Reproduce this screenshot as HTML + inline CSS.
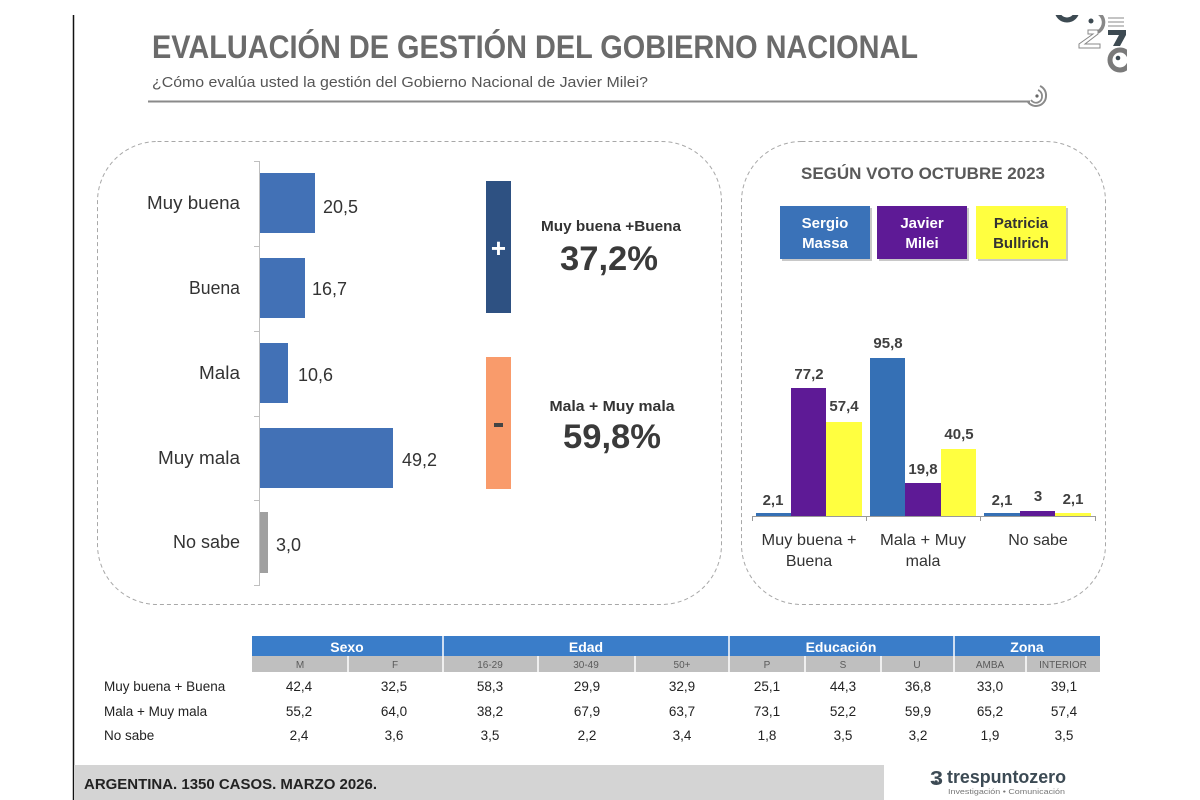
<!DOCTYPE html>
<html><head><meta charset="utf-8"><style>
html,body{margin:0;padding:0;background:#fff;}
svg{display:block;}
text{font-family:"Liberation Sans",Arial,sans-serif;}
</style></head><body>
<svg width="1200" height="800" viewBox="0 0 1200 800" xmlns="http://www.w3.org/2000/svg">
<rect width="1200" height="800" fill="#fff"/>
<!-- left border line -->
<line x1="73.5" y1="15" x2="73.5" y2="800" stroke="#111" stroke-width="1.5"/>

<!-- Title -->
<text x="152" y="58" font-size="32" font-weight="bold" fill="#6b6b6b" textLength="766" lengthAdjust="spacingAndGlyphs">EVALUACIÓN DE GESTIÓN DEL GOBIERNO NACIONAL</text>
<text x="152" y="87" font-size="15" fill="#555" textLength="496" lengthAdjust="spacingAndGlyphs">¿Cómo evalúa usted la gestión del Gobierno Nacional de Javier Milei?</text>
<line x1="148" y1="101.5" x2="1030" y2="101.5" stroke="#8a8a8a" stroke-width="2"/>
<!-- swirl -->
<path d="M1028 102 A10 10 0 0 0 1046 96 A10 10 0 0 0 1040 86" fill="none" stroke="#8a8a8a" stroke-width="2"/>
<path d="M1031 100 A6 6 0 0 0 1042 96 A6 6 0 0 0 1038 90" fill="none" stroke="#8a8a8a" stroke-width="1.8"/>
<circle cx="1037" cy="96" r="1.6" fill="#666"/>

<!-- Top-right logo -->
<g>
<clipPath id="lc"><rect x="1040" y="15" width="87" height="60"/></clipPath>
<g clip-path="url(#lc)">
<circle cx="1067" cy="10" r="10" fill="none" stroke="#3d4a52" stroke-width="5"/>
<circle cx="1091" cy="21" r="2.5" fill="#3d4a52"/>
<path d="M1096 12 A11 11 0 0 1 1098 32" fill="none" stroke="#888" stroke-width="3.5"/>
<line x1="1108" y1="18" x2="1124" y2="18" stroke="#888" stroke-width="1"/>
<line x1="1108" y1="22" x2="1124" y2="22" stroke="#888" stroke-width="1"/>
<line x1="1108" y1="26" x2="1124" y2="26" stroke="#888" stroke-width="1"/>
<path d="M1088 30 L1098 30 L1098 34 L1085 44 L1100 44 L1100 48 L1079 48 L1079 44 L1093 34 L1088 34 Z" fill="none" stroke="#888" stroke-width="1"/>
<path d="M1108 30 L1126 30 L1126 35 L1120 46 L1113 46 L1119 35 L1108 35 Z" fill="#3d4a52"/>
<circle cx="1120" cy="60" r="10" fill="none" stroke="#7a7a7a" stroke-width="5"/>
<circle cx="1118" cy="58" r="2.3" fill="#3d4a52"/>
</g>
</g>

<!-- Left dashed panel -->
<rect x="97.5" y="141.5" width="624" height="463" rx="60" ry="60" fill="none" stroke="#a8a8a8" stroke-width="1" stroke-dasharray="4 3"/>

<!-- axis -->
<line x1="259.5" y1="161" x2="259.5" y2="585" stroke="#bfbfbf" stroke-width="1"/>
<g stroke="#bfbfbf" stroke-width="1">
<line x1="254" y1="161.5" x2="260" y2="161.5"/>
<line x1="254" y1="246.5" x2="260" y2="246.5"/>
<line x1="254" y1="331.5" x2="260" y2="331.5"/>
<line x1="254" y1="416.5" x2="260" y2="416.5"/>
<line x1="254" y1="500.5" x2="260" y2="500.5"/>
<line x1="254" y1="585.5" x2="260" y2="585.5"/>
</g>
<!-- bars -->
<rect x="260" y="173" width="55" height="60" fill="#4271b6"/>
<rect x="260" y="258" width="45" height="60" fill="#4271b6"/>
<rect x="260" y="343" width="28" height="60" fill="#4271b6"/>
<rect x="260" y="428" width="133" height="60" fill="#4271b6"/>
<rect x="260" y="512" width="8" height="61" fill="#a0a0a0"/>

<g font-size="18" fill="#333">
<text x="240" y="209" text-anchor="end" textLength="93" lengthAdjust="spacingAndGlyphs">Muy buena</text>
<text x="240" y="294" text-anchor="end" textLength="51" lengthAdjust="spacingAndGlyphs">Buena</text>
<text x="240" y="379" text-anchor="end" textLength="41" lengthAdjust="spacingAndGlyphs">Mala</text>
<text x="240" y="464" text-anchor="end" textLength="82" lengthAdjust="spacingAndGlyphs">Muy mala</text>
<text x="240" y="548" text-anchor="end" textLength="67" lengthAdjust="spacingAndGlyphs">No sabe</text>
<text x="323" y="213" textLength="35" lengthAdjust="spacingAndGlyphs">20,5</text>
<text x="312" y="295" textLength="35" lengthAdjust="spacingAndGlyphs">16,7</text>
<text x="298" y="381" textLength="35" lengthAdjust="spacingAndGlyphs">10,6</text>
<text x="402" y="466" textLength="35" lengthAdjust="spacingAndGlyphs">49,2</text>
<text x="276" y="551" textLength="25" lengthAdjust="spacingAndGlyphs">3,0</text>
</g>

<!-- plus / minus bars -->
<rect x="486" y="181" width="25" height="132" fill="#2e5182"/>
<text x="498.5" y="257" font-size="26" font-weight="bold" fill="#fff" text-anchor="middle">+</text>
<rect x="486" y="357" width="25" height="132" fill="#f99b6b"/>
<rect x="494" y="423" width="9" height="4" fill="#444"/>

<text x="611" y="231" font-size="15" font-weight="bold" fill="#333" text-anchor="middle" textLength="140" lengthAdjust="spacingAndGlyphs">Muy buena +Buena</text>
<text x="609" y="270" font-size="34" font-weight="bold" fill="#3a3a3a" text-anchor="middle" textLength="98" lengthAdjust="spacingAndGlyphs">37,2%</text>
<text x="612" y="411" font-size="15" font-weight="bold" fill="#333" text-anchor="middle" textLength="125" lengthAdjust="spacingAndGlyphs">Mala + Muy mala</text>
<text x="612" y="448" font-size="34" font-weight="bold" fill="#3a3a3a" text-anchor="middle" textLength="98" lengthAdjust="spacingAndGlyphs">59,8%</text>

<!-- Right dashed panel -->
<rect x="741.5" y="141.5" width="364" height="463" rx="60" ry="60" fill="none" stroke="#a8a8a8" stroke-width="1" stroke-dasharray="4 3"/>
<text x="923" y="179" font-size="17" font-weight="bold" fill="#595959" text-anchor="middle" textLength="244" lengthAdjust="spacingAndGlyphs">SEGÚN VOTO OCTUBRE 2023</text>

<!-- legend boxes -->
<rect x="782" y="208" width="90" height="53" fill="#c8c8c8"/>
<rect x="780" y="206" width="90" height="53" fill="#3a72b8"/>
<rect x="879" y="208" width="90" height="53" fill="#c8c8c8"/>
<rect x="877" y="206" width="90" height="53" fill="#5e1a96"/>
<rect x="978" y="208" width="90" height="53" fill="#c8c8c8"/>
<rect x="976" y="206" width="90" height="53" fill="#ffff40"/>
<g font-size="15" font-weight="bold" text-anchor="middle">
<text x="825" y="228" fill="#fff">Sergio</text>
<text x="825" y="248" fill="#fff">Massa</text>
<text x="922" y="228" fill="#fff">Javier</text>
<text x="922" y="248" fill="#fff">Milei</text>
<text x="1021" y="228" fill="#333">Patricia</text>
<text x="1021" y="248" fill="#333">Bullrich</text>
</g>

<!-- grouped bars -->
<rect x="756" y="513" width="35" height="3" fill="#3570b5"/>
<rect x="791" y="388" width="35" height="128" fill="#5e1a96"/>
<rect x="826" y="422" width="36" height="94" fill="#ffff40"/>
<rect x="870" y="358" width="35" height="158" fill="#3570b5"/>
<rect x="905" y="483" width="36" height="33" fill="#5e1a96"/>
<rect x="941" y="449" width="35" height="67" fill="#ffff40"/>
<rect x="984" y="513" width="36" height="3" fill="#3570b5"/>
<rect x="1020" y="511" width="35" height="5" fill="#5e1a96"/>
<rect x="1055" y="513" width="36" height="3" fill="#ffff40"/>
<line x1="752" y1="516.5" x2="1096" y2="516.5" stroke="#999" stroke-width="1"/>
<g stroke="#999" stroke-width="1">
<line x1="752.5" y1="516" x2="752.5" y2="521"/>
<line x1="866.5" y1="516" x2="866.5" y2="521"/>
<line x1="980.5" y1="516" x2="980.5" y2="521"/>
<line x1="1095.5" y1="516" x2="1095.5" y2="521"/>
</g>
<g font-size="15" font-weight="bold" fill="#404040" text-anchor="middle">
<text x="773" y="505">2,1</text>
<text x="809" y="379">77,2</text>
<text x="844" y="411">57,4</text>
<text x="888" y="348">95,8</text>
<text x="923" y="474">19,8</text>
<text x="959" y="439">40,5</text>
<text x="1002" y="505">2,1</text>
<text x="1038" y="501">3</text>
<text x="1073" y="504">2,1</text>
</g>
<g font-size="16" fill="#333" text-anchor="middle">
<text x="809" y="545" textLength="95" lengthAdjust="spacingAndGlyphs">Muy buena +</text>
<text x="809" y="566">Buena</text>
<text x="923" y="545" textLength="86" lengthAdjust="spacingAndGlyphs">Mala + Muy</text>
<text x="923" y="566">mala</text>
<text x="1038" y="545">No sabe</text>
</g>

<!-- Table -->
<rect x="252" y="636" width="848" height="20" fill="#3a7dc9"/>
<rect x="252" y="656" width="848" height="16" fill="#bfbfbf"/>
<g stroke="#fff" stroke-width="1.5">
<line x1="443" y1="636" x2="443" y2="672"/>
<line x1="729" y1="636" x2="729" y2="672"/>
<line x1="954" y1="636" x2="954" y2="672"/>
<line x1="348" y1="656" x2="348" y2="672"/>
<line x1="538" y1="656" x2="538" y2="672"/>
<line x1="635" y1="656" x2="635" y2="672"/>
<line x1="805" y1="656" x2="805" y2="672"/>
<line x1="881" y1="656" x2="881" y2="672"/>
<line x1="1026" y1="656" x2="1026" y2="672"/>
</g>
<g font-size="14" font-weight="bold" fill="#fff" text-anchor="middle">
<text x="347" y="652">Sexo</text>
<text x="586" y="652">Edad</text>
<text x="841" y="652">Educación</text>
<text x="1027" y="652">Zona</text>
</g>
<g font-size="10" fill="#5a5a5a" text-anchor="middle">
<text x="300" y="668">M</text>
<text x="395" y="668">F</text>
<text x="490" y="668">16-29</text>
<text x="586" y="668">30-49</text>
<text x="682" y="668">50+</text>
<text x="767" y="668">P</text>
<text x="843" y="668">S</text>
<text x="917" y="668">U</text>
<text x="990" y="668">AMBA</text>
<text x="1063" y="668">INTERIOR</text>
</g>
<g font-size="13.5" fill="#222">
<text x="104" y="691">Muy buena + Buena</text>
<text x="104" y="716">Mala + Muy mala</text>
<text x="104" y="740">No sabe</text>
</g>
<g font-size="13.5" fill="#222" text-anchor="middle">
<text x="299" y="691">42,4</text><text x="394" y="691">32,5</text><text x="490" y="691">58,3</text><text x="587" y="691">29,9</text><text x="682" y="691">32,9</text><text x="767" y="691">25,1</text><text x="843" y="691">44,3</text><text x="918" y="691">36,8</text><text x="990" y="691">33,0</text><text x="1064" y="691">39,1</text>
<text x="299" y="716">55,2</text><text x="394" y="716">64,0</text><text x="490" y="716">38,2</text><text x="587" y="716">67,9</text><text x="682" y="716">63,7</text><text x="767" y="716">73,1</text><text x="843" y="716">52,2</text><text x="918" y="716">59,9</text><text x="990" y="716">65,2</text><text x="1064" y="716">57,4</text>
<text x="299" y="740">2,4</text><text x="394" y="740">3,6</text><text x="490" y="740">3,5</text><text x="587" y="740">2,2</text><text x="682" y="740">3,4</text><text x="767" y="740">1,8</text><text x="843" y="740">3,5</text><text x="918" y="740">3,2</text><text x="990" y="740">1,9</text><text x="1064" y="740">3,5</text>
</g>

<!-- Footer -->
<rect x="74" y="765" width="810" height="35" fill="#d4d4d4"/>
<text x="84" y="789" font-size="14.5" font-weight="bold" fill="#222" textLength="293" lengthAdjust="spacingAndGlyphs">ARGENTINA. 1350 CASOS. MARZO 2026.</text>

<!-- bottom logo -->
<text x="930" y="785" font-size="20" font-weight="bold" fill="#3c4a54" textLength="13" lengthAdjust="spacingAndGlyphs">3</text>
<circle cx="936" cy="782" r="1.8" fill="#3c4a54"/>
<text x="947" y="783" font-size="18" font-weight="bold" fill="#3c4a54" textLength="119" lengthAdjust="spacingAndGlyphs">trespuntozero</text>
<text x="948" y="794" font-size="7.5" fill="#777" textLength="117" lengthAdjust="spacingAndGlyphs">Investigación • Comunicación</text>
</svg>
</body></html>
